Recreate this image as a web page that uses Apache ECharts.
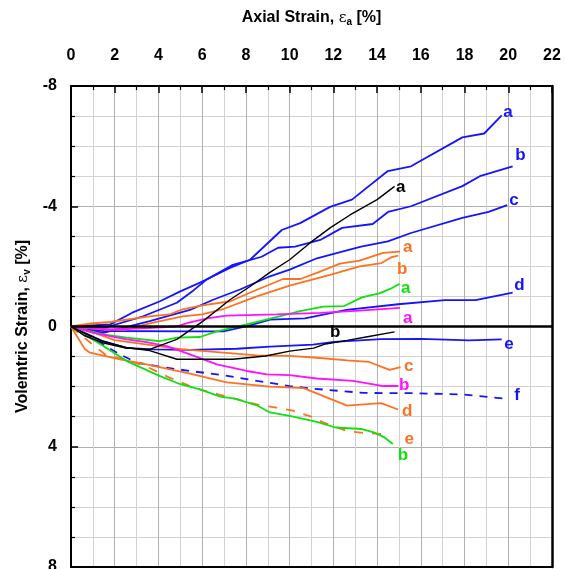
<!DOCTYPE html>
<html>
<head>
<meta charset="utf-8">
<script src="https://cdn.jsdelivr.net/npm/echarts@6/dist/echarts.min.js"></script>
<style>
  html, body { margin: 0; padding: 0; background: #fff; }
  #chart { width: 566px; height: 569px; }
</style>
</head>
<body>
<div id="chart"></div>
<script>
// Axial strain (x, %) vs volumetric strain (y, %) for each test
const blueA = [[0,0],[1.8,-0.07],[2.8,-0.46],[4.07,-0.84],[5.0,-1.17],[5.9,-1.46],[6.36,-1.62],[7.27,-1.95],[8.19,-2.22],[9.64,-3.21],[10.48,-3.44],[11.85,-3.98],[12.85,-4.22],[14.49,-5.17],[15.55,-5.33],[17.9,-6.29],[18.9,-6.42],[19.7,-7.02]];
const blueB = [[0,0],[1.5,0.05],[3.3,-0.34],[4.84,-0.79],[5.6,-1.2],[6.2,-1.56],[7.4,-2.05],[8.72,-2.32],[9.47,-2.62],[10.25,-2.66],[11.4,-2.88],[12.4,-3.28],[13.8,-3.41],[14.5,-3.81],[15.55,-4.0],[17.9,-4.67],[18.7,-5.0],[20.2,-5.33]];
const blueC = [[0,0],[1.48,0.21],[3.6,-0.18],[5.44,-0.55],[6.5,-0.89],[7.73,-1.23],[9.1,-1.67],[10.0,-1.89],[11.25,-2.27],[12.4,-2.49],[13.27,-2.66],[14.49,-2.83],[15.55,-3.11],[17.9,-3.61],[19.1,-3.81],[19.95,-4.04]];
const blueD = [[0,0],[1.5,0.15],[5.44,0.16],[6.97,0.16],[8.1,-0.02],[9.1,-0.23],[10.7,-0.27],[12.6,-0.55],[14.96,-0.74],[17.1,-0.88],[18.5,-0.88],[20.2,-1.13]];
const blueE = [[0,0],[1.46,0.49],[2.55,0.71],[3.75,0.76],[5.44,0.78],[7.58,0.74],[9.1,0.67],[11.07,0.6],[12.03,0.51],[14.18,0.42],[16.0,0.41],[18.2,0.46],[19.7,0.43]];
const blueF = [[0,0],[1.0,0.4],[2.24,0.93],[3.0,1.2],[4.07,1.34],[5.44,1.48],[6.97,1.62],[8.5,1.81],[10.0,1.98],[11.1,2.07],[13.4,2.21],[15.74,2.22],[17.9,2.26],[20.0,2.41]];

const blackA = [[0,0],[0.6,0.3],[1.5,0.55],[2.5,0.72],[3.6,0.76],[4.84,0.43],[6.04,-0.18],[7.27,-0.89],[8.19,-1.33],[9.1,-1.8],[10.0,-2.22],[10.93,-2.78],[11.85,-3.28],[12.76,-3.71],[14.0,-4.22],[14.8,-4.66]];
const blackB = [[0,0],[0.7,0.25],[1.5,0.5],[2.5,0.7],[3.6,0.8],[4.84,1.09],[7.4,1.09],[8.9,0.98],[10.0,0.82],[11.1,0.72],[11.64,0.58],[12.63,0.46],[13.56,0.34],[14.8,0.18]];

const orangeA = [[0,0],[0.9,-0.1],[1.8,-0.15],[3.6,-0.34],[4.5,-0.4],[5.1,-0.57],[6.0,-0.7],[7.3,-0.84],[8.2,-1.13],[9.7,-1.58],[10.5,-1.58],[11.3,-1.8],[12.3,-2.09],[13.2,-2.19],[14.27,-2.45],[15.05,-2.49]];
const orangeB = [[0,0],[1.5,0.1],[2.5,0.1],[3.6,-0.1],[5.1,-0.34],[6.0,-0.4],[7.0,-0.59],[8.5,-1.0],[10.0,-1.36],[11.85,-1.72],[13.2,-2.0],[14.2,-2.11],[14.67,-2.31],[14.97,-2.36]];
const orangeC = [[0,0],[1.0,0.2],[2.0,0.45],[3.5,0.6],[5.0,0.75],[6.97,0.87],[8.5,0.96],[10.0,0.98],[11.25,1.04],[12.63,1.13],[13.63,1.18],[14.57,1.44],[15.07,1.35]];
const orangeD = [[0,0],[0.64,0.76],[0.87,0.87],[2.24,1.09],[3.46,1.26],[5.44,1.57],[7.12,1.86],[9.1,2.0],[10.64,2.05],[12.63,2.63],[14.18,2.55],[14.96,2.76]];
const orangeE = [[0,0],[0.9,0.55],[1.6,0.95],[2.5,1.1],[3.5,1.35],[4.5,1.7],[5.75,2.07],[7.27,2.36],[8.65,2.62],[9.4,2.7],[10.15,2.8],[11.07,3.02],[11.57,3.2],[12.63,3.48],[13.5,3.55],[14.5,3.58]];

const greenA = [[0,0],[1.48,0.26],[2.55,0.37],[4.07,0.49],[4.84,0.37],[5.9,0.35],[6.67,0.16],[8.04,-0.07],[9.25,-0.29],[10.48,-0.51],[11.54,-0.66],[12.5,-0.68],[13.3,-0.97],[14.1,-1.1],[14.6,-1.25],[15.03,-1.42]];
const greenB = [[0,0],[1.48,0.65],[2.55,1.15],[4.07,1.65],[5.0,1.92],[5.9,2.09],[6.82,2.33],[7.5,2.4],[8.5,2.62],[9.1,2.86],[10.0,2.97],[11.24,3.17],[12.1,3.36],[13.3,3.41],[13.85,3.52],[14.34,3.69],[14.72,3.91]];

const magentaA = [[0,0],[1.8,0.1],[3.5,0.05],[4.8,0.0],[5.44,-0.14],[6.3,-0.28],[7.12,-0.36],[9.4,-0.4],[11.4,-0.45],[13.2,-0.53],[15.05,-0.62]];
const magentaB = [[0,0],[1.0,0.2],[1.78,0.32],[2.55,0.43],[3.46,0.52],[4.38,0.65],[5.44,0.93],[6.67,1.26],[8.04,1.48],[8.95,1.59],[10.0,1.62],[11.24,1.73],[12.9,1.81],[14.29,1.98],[14.97,1.98]];

const xTicks = { min: 0, max: 22, step: 2 };
const yTicks = { min: -8, max: 8, step: 4 };

const BLUE = '#1414ff', ORANGE = '#ff7020', GREEN = '#10e010', MAGENTA = '#ff10ff', BLACK = '#000000';
const FONT = '"Liberation Sans", Arial, sans-serif';

function curve(name, data, color, tag, offset, opts) {
  opts = opts || {};
  return {
    name: name,
    type: 'line',
    data: data,
    showSymbol: false,
    symbol: 'none',
    smooth: false,
    z: opts.z || 3,
    lineStyle: { color: color, width: opts.width || 1.8, type: opts.dash ? opts.dash : 'solid' },
    endLabel: {
      show: true,
      formatter: tag,
      color: color,
      fontFamily: FONT,
      fontWeight: 'bold',
      fontSize: 17,
      distance: 0,
      offset: offset
    },
    emphasis: { disabled: true }
  };
}

const nameRich = {
  t: { fontFamily: FONT, fontWeight: 'bold', fontSize: 16, color: '#000', lineHeight: 20 },
  e: { fontFamily: '"DejaVu Serif", serif', fontSize: 15, color: '#000', lineHeight: 20 },
  s: { fontFamily: FONT, fontWeight: 'bold', fontSize: 10, color: '#000', lineHeight: 20, padding: [8, 0, 0, 0] }
};

const chart = echarts.init(document.getElementById('chart'), null, { renderer: 'canvas' });

const gridStyle = { color: '#b0b0b0', width: 1 };
const minorGridStyle = { color: '#d2d2d2', width: 1 };

const option = {
  animation: false,
  backgroundColor: '#ffffff',
  grid: { left: 71, right: 14, top: 86, bottom: 2, show: false, containLabel: false, outerBoundsMode: 'none' },
  xAxis: [{
    type: 'value',
    position: 'top',
    min: xTicks.min, max: xTicks.max, interval: xTicks.step,
    name: '{t|Axial Strain, }{e|ε}{s|a}{t| [%]}',
    nameLocation: 'middle',
    nameGap: 58,
    nameTextStyle: { rich: nameRich },
    axisLine: { show: true, onZero: false, lineStyle: { color: '#000', width: 2 } },
    axisTick: { show: true, inside: true, length: 7, lineStyle: { color: '#000', width: 1.5 } },
    minorTick: { show: true, splitNumber: 2, length: 4, lineStyle: { color: '#000', width: 1.2 } },
    axisLabel: { fontFamily: FONT, fontWeight: 'bold', fontSize: 16, color: '#000', margin: 22 },
    splitLine: { show: true, lineStyle: gridStyle },
    minorSplitLine: { show: true, lineStyle: minorGridStyle }
  }, {
    // bottom frame edge
    type: 'value',
    position: 'bottom',
    min: xTicks.min, max: xTicks.max, interval: xTicks.step,
    axisLine: { show: true, onZero: false, lineStyle: { color: '#000', width: 2 } },
    axisTick: { show: false }, axisLabel: { show: false }, splitLine: { show: false }
  }],
  yAxis: [{
    type: 'value',
    inverse: true,
    position: 'left',
    min: yTicks.min, max: yTicks.max, interval: yTicks.step,
    name: '{t|Volemtric Strain, }{e|ε}{s|v}{t| [%]}',
    nameLocation: 'middle',
    nameRotate: 90,
    nameGap: 37,
    nameTextStyle: { rich: nameRich },
    axisLine: { show: true, onZero: false, lineStyle: { color: '#000', width: 2 } },
    axisTick: { show: true, inside: true, length: 7, lineStyle: { color: '#000', width: 1.5 } },
    minorTick: { show: true, splitNumber: 4, length: 4, lineStyle: { color: '#000', width: 1.2 } },
    axisLabel: { fontFamily: FONT, fontWeight: 'bold', fontSize: 16, color: '#000', margin: 14 },
    splitLine: { show: true, lineStyle: gridStyle },
    minorSplitLine: { show: true, lineStyle: minorGridStyle }
  }, {
    // right frame edge
    type: 'value',
    inverse: true,
    position: 'right',
    min: yTicks.min, max: yTicks.max, interval: yTicks.step,
    axisLine: { show: true, onZero: false, lineStyle: { color: '#000', width: 2.5 } },
    axisTick: { show: false }, axisLabel: { show: false }, splitLine: { show: false }
  }],
  series: [
    {
      name: 'zero',
      type: 'line',
      data: [],
      silent: true,
      markLine: {
        silent: true,
        symbol: 'none',
        label: { show: false },
        lineStyle: { color: '#000', width: 2.5, type: 'solid' },
        data: [{ yAxis: 0 }]
      }
    },
    curve('blueA', blueA, BLUE, 'a', [1.5, -3]),
    curve('blueB', blueB, BLUE, 'b', [2.5, -11]),
    curve('blueC', blueC, BLUE, 'c', [2, -5]),
    curve('blueD', blueD, BLUE, 'd', [1.5, -7]),
    curve('blueE', blueE, BLUE, 'e', [2.5, 5]),
    curve('blueF', blueF, BLUE, 'f', [6, -4], { dash: [8, 7] }),
    curve('orangeA', orangeA, ORANGE, 'a', [3, -4]),
    curve('orangeB', orangeB, ORANGE, 'b', [-1.3, 14]),
    curve('orangeC', orangeC, ORANGE, 'c', [3.5, -1]),
    curve('orangeD', orangeD, ORANGE, 'd', [4, 2]),
    curve('orangeE', orangeE, ORANGE, 'e', [16.5, 5], { dash: [9, 9] }),
    curve('greenA', greenA, GREEN, 'a', [1.5, 5]),
    curve('greenB', greenB, GREEN, 'b', [5, 11]),
    curve('magentaA', magentaA, MAGENTA, 'a', [3, 10]),
    curve('magentaB', magentaB, MAGENTA, 'b', [0.7, -1]),
    curve('blackA', blackA, BLACK, 'a', [1.5, 1], { width: 1.4, z: 4 }),
    curve('blackB', blackB, BLACK, 'b', [-64.5, 0.6], { width: 1.4, z: 4 })
  ]
};

chart.setOption(option);
</script>
</body>
</html>
